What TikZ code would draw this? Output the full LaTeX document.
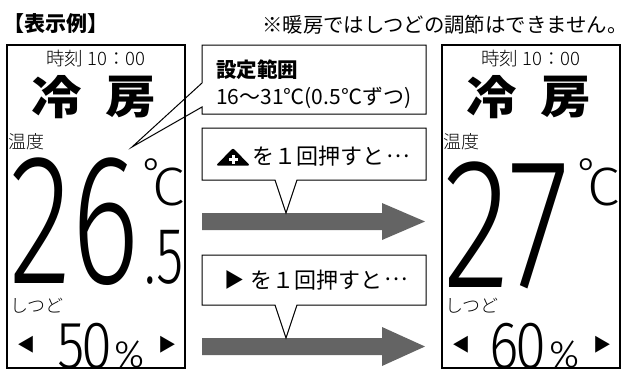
\documentclass[tikz,border=0pt]{standalone}
\usepackage{fontspec}
\setmainfont{Noto Sans CJK JP}
\newfontfamily\numfont{Fira Sans Light}
\IfFontExistsTF{Noto Sans CJK JP Light}
  {\newfontfamily\lightjp{Noto Sans CJK JP Light}}
  {\newfontfamily\lightjp{Noto Sans CJK JP}}
\newcommand\middots{\hspace{.1em}\raisebox{.34em}{…}}
\definecolor{arrowgray}{HTML}{646464}
\tikzset{
  panel/.style={draw, line width=1.2pt, minimum width=178pt, minimum height=323pt, inner sep=0pt},
  callout/.style={draw, fill=white, line width=1pt},
  bigarrow/.style={fill=arrowgray},
  txt/.style={inner sep=0pt, font=\fontsize{#1}{#1}\selectfont},
  btxt/.style={inner sep=0pt, font=\bfseries\fontsize{#1}{#1}\selectfont},
  ltxt/.style={inner sep=0pt, font=\lightjp\fontsize{#1}{#1}\selectfont},
  num/.style={inner sep=0pt, xscale=0.7, font=\numfont\fontsize{#1}{#1}\selectfont},
}

\begin{document}
\begin{tikzpicture}[x=1pt,y=-1pt]
    \useasboundingbox (0,0) rectangle (637,372);
    % headings
    \node[btxt=21] (title) at (56.5,24) {【表示例】};
    \node[txt=20.4, anchor=west] (note) at (262,25) {※暖房ではしつどの調節はできません。};

    % big arrows
    \fill[bigarrow] (202,213) -- (382,213) -- (382,203) -- (425,221.5) -- (382,240) -- (382,230) -- (202,230) -- cycle;
    \fill[bigarrow] (202,338) -- (382,338) -- (382,327) -- (425,346.5) -- (382,366) -- (382,355) -- (202,355) -- cycle;

    % callouts
    \coordinate (tip1) at (132,147);
    \coordinate (tip2) at (286,213);
    \coordinate (tip3) at (286,338);
    \draw[callout] (202,45) -- (426,45) -- (426,114) -- (202,114) -- (202,107) -- (tip1) -- (202,83) -- cycle;
    \draw[callout] (202,128) -- (426,128) -- (426,180) -- (297,180) -- (tip2) -- (275,180) -- (202,180) -- cycle;
    \draw[callout] (202,255) -- (426,255) -- (426,305) -- (297,305) -- (tip3) -- (275,305) -- (202,305) -- cycle;
    \node[btxt=20.5, anchor=north west] (range) at (216,60) {設定範囲};
    \node[txt=21, anchor=north west] (rangeval) at (216,87) {16～31℃(0.5℃ずつ)};
    % plus key icon
    \fill[rounded corners=2pt] (216,165.5) -- (233,148) -- (250,165.5) -- cycle;
    \fill[white] (228.5,157.5) rectangle (237.5,160.5);
    \fill[white] (231.5,154.5) rectangle (234.5,163.5);
    \node[txt=22, anchor=west] (pluspress) at (252,156.5) {を１回押すと\middots};
    \node[txt=20] (rightkey) at (234,280) {▶};
    \node[txt=22, anchor=west] (rightpress) at (250,280) {を１回押すと\middots};

    % the two screens
    \foreach \dx/\p in {0/l,435/r}{
      \begin{scope}[xshift=\dx pt]
        \node[ltxt=18.5, anchor=north] (clock\p) at (96,50) {時刻 10：00};
        \node[btxt=46, xscale=1.1] (cool\p) at (57,97.5) {冷};
        \node[btxt=46, xscale=1.1] (room\p) at (131,97.5) {房};
        \node[ltxt=18, anchor=north west] (templabel\p) at (8,133) {温度};
        \node[inner sep=0pt, anchor=north, font=\numfont\fontsize{40}{40}\selectfont] (deg\p) at (152.5,158) {°};
        \node[inner sep=0pt, xscale=1.08, anchor=base west, font=\numfont\fontsize{54}{54}\selectfont] (cel\p) at (152,205) {C};
        \node[ltxt=18, anchor=north west] (humlabel\p) at (10,298) {しつど};
        \node[txt=18] (down\p) at (26,345) {◀};
        \node[txt=18] (up\p) at (167.5,345) {▶};
        \node[inner sep=0pt, anchor=base west, font=\numfont\fontsize{38}{38}\selectfont] (pct\p) at (114,367) {\%};
        \node[panel] (screen\p) at (96,206.5) {};
      \end{scope}
    }
    \node[num=186, anchor=base west] (templ) at (9,283) {26};
    \node[num=80, anchor=base west] (halfl) at (144,283) {.5};
    \node[num=186, xscale=1.07, anchor=base west] (tempr) at (443,287) {27};
    \node[num=67, xscale=1.2, anchor=base west] (huml) at (57,368) {5\kern-4pt 0};
    \node[num=67, xscale=1.2, anchor=base west] (humr) at (489,368) {6\kern-4pt 0};
\end{tikzpicture}
\end{document}
